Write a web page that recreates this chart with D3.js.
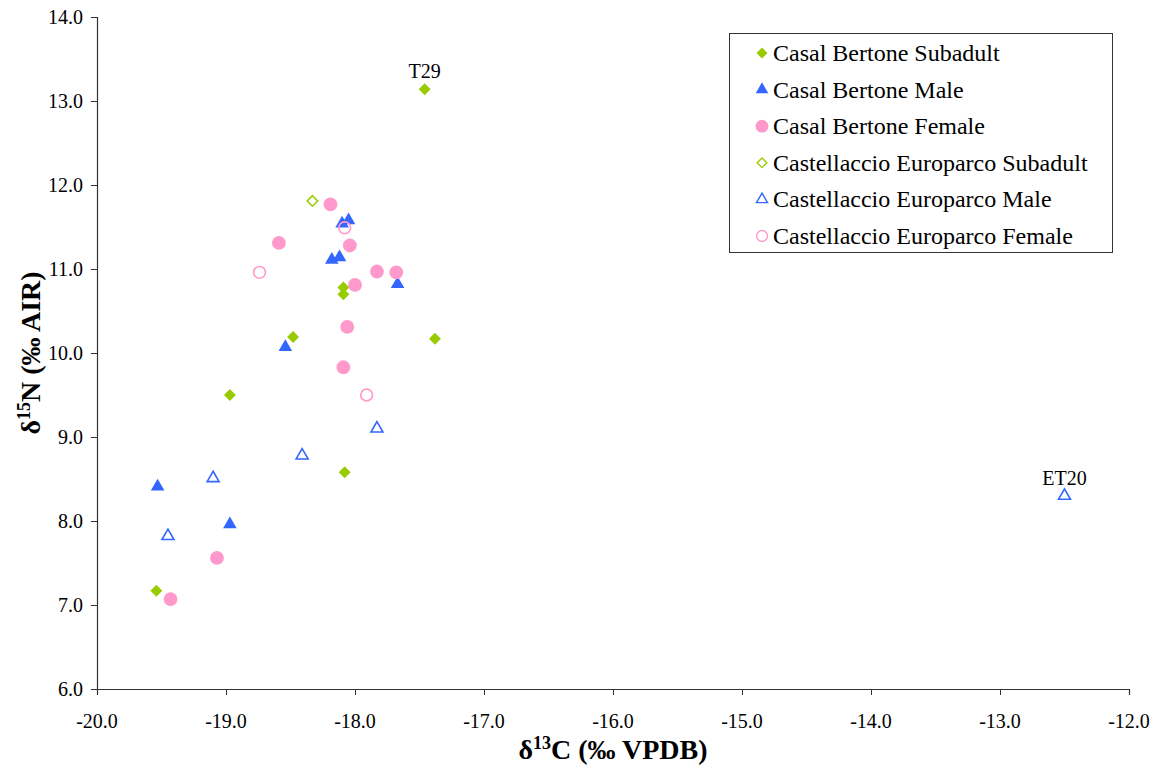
<!DOCTYPE html>
<html>
<head>
<meta charset="utf-8">
<script src="https://cdn.jsdelivr.net/npm/d3@7"></script>
<style>
  body { margin: 0; background: #fff; }
  svg text { font-family: "Liberation Serif", "Times New Roman", serif; }
</style>
</head>
<body>
<svg id="chart" width="1157" height="774"></svg>
<script>
// Casal Bertone
var cbSubadultC = [-17.46, -18.09, -18.09, -18.48, -17.38, -18.97, -18.08, -19.54];
var cbSubadultN = [13.14, 10.78, 10.70, 10.19, 10.17, 9.50, 8.58, 7.17];
var cbMaleC = [-18.05, -18.10, -18.18, -18.12, -17.67, -18.54, -19.53, -18.97];
var cbMaleN = [11.58, 11.54, 11.11, 11.14, 10.82, 10.07, 8.41, 7.96];
var cbFemaleC = [-18.19, -18.59, -18.04, -17.83, -17.68, -18.00, -18.06, -18.09, -19.07, -19.43];
var cbFemaleN = [11.77, 11.31, 11.28, 10.97, 10.96, 10.81, 10.31, 9.83, 7.56, 7.07];
// Castellaccio Europarco
var ceSubadultC = [-18.33];
var ceSubadultN = [11.81];
var ceMaleC = [-17.83, -18.41, -19.10, -19.45, -12.50];
var ceMaleN = [9.10, 8.78, 8.51, 7.82, 8.30];
var ceFemaleC = [-18.08, -18.74, -17.91];
var ceFemaleN = [11.49, 10.96, 9.50];

var seriesNames = ["Casal Bertone Subadult", "Casal Bertone Male", "Casal Bertone Female",
                   "Castellaccio Europarco Subadult", "Castellaccio Europarco Male", "Castellaccio Europarco Female"];
var xTicks = [-20, -19, -18, -17, -16, -15, -14, -13, -12];
var yTicks = [6, 7, 8, 9, 10, 11, 12, 13, 14];
var pointLabels = [{text: "T29", c: -17.46, n: 13.14}, {text: "ET20", c: -12.50, n: 8.30}];

var green = "#99cc00", blue = "#3366ff", pink = "#ff99cc";

function pairs(cs, ns) { return cs.map((c, i) => ({c: c, n: ns[i]})); }

var series = [
  {name: seriesNames[0], shape: d3.symbolDiamond2, color: green, filled: true, data: pairs(cbSubadultC, cbSubadultN)},
  {name: seriesNames[1], shape: d3.symbolTriangle, color: blue, filled: true, data: pairs(cbMaleC, cbMaleN)},
  {name: seriesNames[2], shape: d3.symbolCircle, color: pink, filled: true, data: pairs(cbFemaleC, cbFemaleN)},
  {name: seriesNames[3], shape: d3.symbolDiamond2, color: green, filled: false, data: pairs(ceSubadultC, ceSubadultN)},
  {name: seriesNames[4], shape: d3.symbolTriangle, color: blue, filled: false, data: pairs(ceMaleC, ceMaleN)},
  {name: seriesNames[5], shape: d3.symbolCircle, color: pink, filled: false, data: pairs(ceFemaleC, ceFemaleN)}
];

var svg = d3.select("#chart");
var plotL = 97, plotR = 1129, plotT = 17, plotB = 689;

var x = d3.scaleLinear().domain([-20, -12]).range([plotL, plotR]);
var y = d3.scaleLinear().domain([6, 14]).range([plotB, plotT]);

// symbol sizes (area)
function symSize(shape, filled) {
  if (shape === d3.symbolDiamond2) return filled ? 90 : 70;
  if (shape === d3.symbolTriangle) return filled ? 80 : 62;
  return filled ? 150 : 110;
}

// axes (lines + ticks from d3, labels drawn below with serif text)
var fmt = d => d.toFixed(1);
var xAxis = d3.axisBottom(x).tickValues(xTicks).tickSize(6).tickFormat("");
var yAxis = d3.axisLeft(y).tickValues(yTicks).tickSize(6).tickFormat("");

var gx = svg.append("g").attr("transform", "translate(0," + plotB + ")").call(xAxis);
var gy = svg.append("g").attr("transform", "translate(" + plotL + ",0)").call(yAxis);

[gx, gy].forEach(g => {
  g.select(".domain").attr("stroke", "#333").attr("stroke-width", 1.2);
  g.selectAll(".tick line").attr("stroke", "#333");
  g.selectAll(".tick text").remove();
});

svg.append("g").selectAll("text")
  .data(xTicks)
  .enter().append("text")
    .attr("x", d => x(d))
    .attr("y", plotB + 39)
    .attr("text-anchor", "middle")
    .style("font-size", "20px")
    .attr("fill", "#000")
    .text(fmt);

svg.append("g").selectAll("text")
  .data(yTicks)
  .enter().append("text")
    .attr("x", plotL - 14)
    .attr("y", d => y(d) + 7)
    .attr("text-anchor", "end")
    .style("font-size", "20px")
    .attr("fill", "#000")
    .text(fmt);

// axis titles
var xt = svg.append("text")
  .attr("x", (plotL + plotR) / 2).attr("y", 759)
  .attr("text-anchor", "middle")
  .style("font-size", "28px").style("font-weight", "bold");
xt.append("tspan").text("δ");
xt.append("tspan").text("13").attr("dy", -10).style("font-size", "18px");
xt.append("tspan").text("C (‰ VPDB)").attr("dy", 10);

var yt = svg.append("text")
  .attr("transform", "translate(40," + ((plotT + plotB) / 2) + ") rotate(-90)")
  .attr("text-anchor", "middle")
  .style("font-size", "28px").style("font-weight", "bold");
yt.append("tspan").text("δ");
yt.append("tspan").text("15").attr("dy", -10).style("font-size", "18px");
yt.append("tspan").text("N (‰ AIR)").attr("dy", 10);

// points
series.forEach(s => {
  svg.append("g").selectAll("path")
    .data(s.data)
    .enter().append("path")
      .attr("transform", d => "translate(" + x(d.c) + "," + y(d.n) + ")")
      .attr("d", d3.symbol().type(s.shape).size(symSize(s.shape, s.filled)))
      .attr("fill", s.filled ? s.color : "none")
      .attr("stroke", s.color)
      .attr("stroke-width", s.filled ? 0 : 1.6);
});

// point labels
svg.selectAll(".plabel")
  .data(pointLabels)
  .enter().append("text")
    .attr("class", "plabel")
    .attr("x", d => x(d.c))
    .attr("y", d => y(d.n) - 11)
    .attr("text-anchor", "middle")
    .style("font-size", "20px")
    .attr("fill", "#000")
    .text(d => d.text);

// legend
var legend = svg.append("g");
legend.append("rect")
  .attr("x", 729.5).attr("y", 33.5).attr("width", 383).attr("height", 219)
  .attr("fill", "#fff").attr("stroke", "#333").attr("stroke-width", 1);

series.forEach((s, i) => {
  var ly = 53 + i * 36.6;
  legend.append("path")
    .attr("transform", "translate(762," + ly + ")")
    .attr("d", d3.symbol().type(s.shape).size(symSize(s.shape, s.filled) * 0.85))
    .attr("fill", s.filled ? s.color : "none")
    .attr("stroke", s.color)
    .attr("stroke-width", s.filled ? 0 : 1.4);
  legend.append("text")
    .attr("x", 773).attr("y", ly + 8)
    .style("font-size", "24px")
    .attr("fill", "#000")
    .text(s.name);
});
</script>
</body>
</html>
